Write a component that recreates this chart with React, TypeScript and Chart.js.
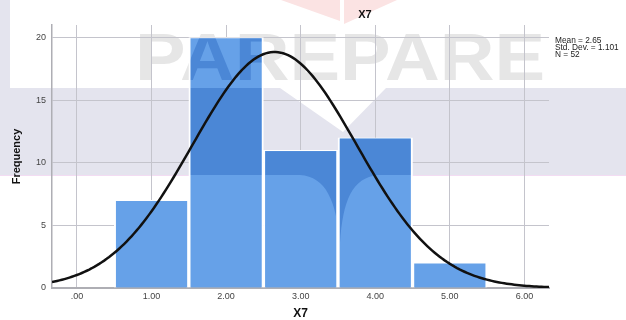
import React, { useEffect, useRef } from "react";
import { Chart, registerables } from "chart.js";

Chart.register(...registerables);

// Histogram of X7 with a fitted normal curve
const BIN_CENTERS = [1, 2, 3, 4, 5];
const FREQUENCIES = [7, 20, 11, 12, 2];
const X_TICKS = [0, 1, 2, 3, 4, 5, 6];
const X_TICK_LABELS = [".00", "1.00", "2.00", "3.00", "4.00", "5.00", "6.00"];
const Y_TICKS = [0, 5, 10, 15, 20];
const MEAN = 2.65;
const STD_DEV = 1.101;
const N = 52;
const BIN_WIDTH = 1;
const X_MIN = -0.335;
const X_MAX = 6.33;
const Y_MAX = 21;
const TITLE = "X7";
const X_TITLE = "X7";
const Y_TITLE = "Frequency";
const STATS_LINES = [
  `Mean = ${MEAN.toFixed(2)}`,
  `Std. Dev. = ${STD_DEV.toFixed(3)}`,
  `N = ${N}`,
];
const MARK_TEXT = "PAREPARE";

const FONT = "Arial, 'Liberation Sans', sans-serif";
const BAR_COLOR = "#66a1e8";
const BAR_SHADE = "#4b87d6";
const LAVENDER = "#e4e4ee";
const GRID = "#c4c4cc";

// Normal density scaled to counts, from the stated mean / sd / N
function normalCurve() {
  const pts: { x: number; y: number }[] = [];
  const steps = 200;
  for (let i = 0; i <= steps; i++) {
    const x = X_MIN + ((X_MAX - X_MIN) * i) / steps;
    const z = (x - MEAN) / STD_DEV;
    const y = (N * BIN_WIDTH * Math.exp(-0.5 * z * z)) / (STD_DEV * Math.sqrt(2 * Math.PI));
    pts.push({ x, y });
  }
  return pts;
}

function traceBand(ctx: CanvasRenderingContext2D) {
  ctx.beginPath();
  ctx.rect(0, 0, 10, 88);
  ctx.moveTo(0, 88);
  ctx.lineTo(280, 88);
  ctx.lineTo(343, 132);
  ctx.lineTo(386, 88);
  ctx.lineTo(626, 88);
  ctx.lineTo(626, 175);
  ctx.lineTo(378, 175);
  ctx.bezierCurveTo(352, 178, 343, 200, 340, 243);
  ctx.bezierCurveTo(336, 200, 326, 177, 300, 175);
  ctx.lineTo(0, 175);
  ctx.closePath();
}

function drawMarkText(ctx: CanvasRenderingContext2D, color: string) {
  ctx.save();
  ctx.font = `bold 67px ${FONT}`;
  ctx.textBaseline = "alphabetic";
  ctx.textAlign = "left";
  const w = ctx.measureText(MARK_TEXT).width;
  const left = 135;
  const target = 410;
  ctx.translate(left, 80);
  ctx.scale(target / w, 1);
  ctx.fillStyle = color;
  ctx.fillText(MARK_TEXT, 0, 0);
  ctx.restore();
}

const backdrop = {
  id: "backdrop",
  beforeDraw(chart: any) {
    const ctx = chart.ctx as CanvasRenderingContext2D;
    ctx.save();
    ctx.fillStyle = "#ffffff";
    ctx.fillRect(0, 0, chart.width, chart.height);
    traceBand(ctx);
    ctx.fillStyle = LAVENDER;
    ctx.fill();
    ctx.strokeStyle = "#f3dcf3";
    ctx.lineWidth = 1;
    ctx.beginPath();
    ctx.moveTo(0, 175.5);
    ctx.lineTo(626, 175.5);
    ctx.stroke();
    ctx.fillStyle = "#fbe3e3";
    ctx.beginPath();
    ctx.moveTo(281, 0);
    ctx.lineTo(340, 0);
    ctx.lineTo(340, 21);
    ctx.closePath();
    ctx.fill();
    ctx.beginPath();
    ctx.moveTo(344, 0);
    ctx.lineTo(397, 0);
    ctx.lineTo(344, 24);
    ctx.closePath();
    ctx.fill();
    ctx.restore();
    drawMarkText(ctx, "#e6e6e6");
  },
  afterDatasetDraw(chart: any, args: any) {
    if (args.meta.type !== "bar") return;
    const ctx = chart.ctx as CanvasRenderingContext2D;
    ctx.save();
    ctx.beginPath();
    for (const el of args.meta.data) {
      const p = el.getProps(["x", "y", "base", "width"], true);
      ctx.rect(p.x - p.width / 2 + 2, p.y + 1, p.width - 4, p.base - p.y - 1);
    }
    ctx.clip();
    traceBand(ctx);
    ctx.fillStyle = BAR_SHADE;
    ctx.fill();
    drawMarkText(ctx, BAR_SHADE);
    ctx.restore();
  },
  afterDraw(chart: any) {
    const ctx = chart.ctx as CanvasRenderingContext2D;
    ctx.save();
    ctx.fillStyle = "#111";
    ctx.font = `bold 11px ${FONT}`;
    ctx.textAlign = "center";
    ctx.textBaseline = "middle";
    ctx.fillText(TITLE, 365, 15);
    ctx.font = `8.3px ${FONT}`;
    ctx.textAlign = "left";
    ctx.fillStyle = "#222";
    STATS_LINES.forEach((t, i) => ctx.fillText(t, 555, 41 + i * 7));
    ctx.restore();
  },
};

export default function App() {
  const ref = useRef<HTMLCanvasElement>(null);

  useEffect(() => {
    document.body.style.margin = "0";
    const canvas = ref.current;
    if (!canvas) return;
    const chart = new Chart(canvas, {
      type: "bar",
      data: {
        datasets: [
          {
            type: "line",
            data: normalCurve(),
            borderColor: "#111",
            borderWidth: 2.5,
            pointRadius: 0,
            tension: 0,
            fill: false,
            order: 1,
          } as any,
          {
            type: "bar",
            data: BIN_CENTERS.map((x, i) => ({ x, y: FREQUENCIES[i] })),
            backgroundColor: BAR_COLOR,
            borderColor: "#ffffff",
            borderWidth: { left: 2, right: 2, top: 1, bottom: 0 },
            borderSkipped: false,
            barPercentage: 1,
            categoryPercentage: 1,
            order: 2,
          } as any,
        ],
      },
      options: {
        responsive: false,
        animation: false,
        layout: { padding: { top: 25, right: 77, left: 0, bottom: 0 } },
        plugins: {
          legend: { display: false },
          tooltip: { enabled: false },
          title: { display: false },
        },
        scales: {
          x: {
            type: "linear",
            min: X_MIN,
            max: X_MAX,
            offset: false,
            grid: { offset: false, color: GRID, drawTicks: false, lineWidth: 1 },
            border: { color: "#aeaeb4", width: 2 },
            afterBuildTicks: (s: any) => {
              s.ticks = X_TICKS.map((v) => ({ value: v }));
            },
            afterFit: (s: any) => {
              s.height = 32;
            },
            ticks: {
              autoSkip: false,
              maxRotation: 0,
              padding: 3,
              color: "#444",
              font: { size: 9, family: FONT },
              callback: (v: any) => X_TICK_LABELS[X_TICKS.indexOf(Number(v))] ?? "",
            },
            title: {
              display: true,
              text: X_TITLE,
              color: "#111",
              font: { size: 12, weight: "bold", family: FONT, lineHeight: 1 },
              padding: { top: 0, bottom: 0 },
            },
          },
          y: {
            min: 0,
            max: Y_MAX,
            grid: { color: GRID, drawTicks: false, lineWidth: 1 },
            border: { color: "#aeaeb4", width: 1.5 },
            afterBuildTicks: (s: any) => {
              s.ticks = Y_TICKS.map((v) => ({ value: v }));
            },
            afterFit: (s: any) => {
              s.width = 52;
            },
            ticks: {
              padding: 6,
              color: "#444",
              font: { size: 9, family: FONT },
            },
            title: {
              display: true,
              text: Y_TITLE,
              color: "#111",
              font: { size: 11, weight: "bold", family: FONT },
              padding: { top: 10, bottom: 0 },
            },
          },
        },
      } as any,
      plugins: [backdrop],
    });
    return () => chart.destroy();
  }, []);

  return (
    <div style={{ width: 626, height: 320 }}>
      <canvas ref={ref} width={626} height={320} />
    </div>
  );
}
